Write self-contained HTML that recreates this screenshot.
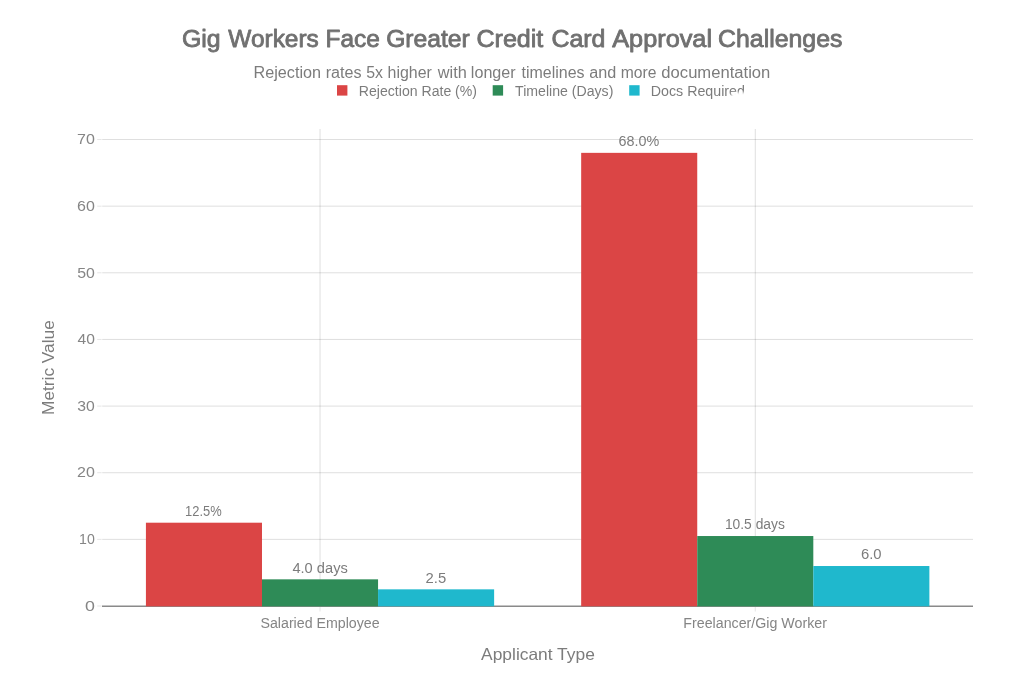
<!DOCTYPE html>
<html lang="en">
<head>
<meta charset="utf-8">
<title>Gig Workers Face Greater Credit Card Approval Challenges</title>
<style>
html,body{margin:0;padding:0;background:#fff;}
body{width:1024px;height:683px;overflow:hidden;}
svg{display:block;font-family:"Liberation Sans",sans-serif;}
.title{font-size:24.7px;fill:#707070;stroke:#707070;stroke-width:0.85px;stroke-linejoin:round;}
.sub{font-size:16px;fill:#7c7c7c;}
.leg{font-size:13.8px;fill:#7c7c7c;}
.tick{font-size:14px;fill:#858585;}
.axt{font-size:16.5px;fill:#7c7c7c;}
.bl{font-size:14px;fill:#7c7c7c;}
.grid{stroke:rgba(0,0,0,0.13);stroke-width:1;}
.tk{stroke:rgba(0,0,0,0.10);stroke-width:1;}
</style>
</head>
<body>
<svg width="1024" height="683" viewBox="0 0 1024 683">
<rect width="1024" height="683" fill="#ffffff"/>

<line class="grid" x1="320.02" x2="320.02" y1="129.0" y2="606.0"/>
<line class="tk" x1="320.02" x2="320.02" y1="606.0" y2="611.5"/>
<line class="grid" x1="755.27" x2="755.27" y1="129.0" y2="606.0"/>
<line class="tk" x1="755.27" x2="755.27" y1="606.0" y2="611.5"/>
<line class="grid" x1="102.2" x2="973" y1="539.36" y2="539.36"/>
<line class="grid" x1="102.2" x2="973" y1="472.72" y2="472.72"/>
<line class="grid" x1="102.2" x2="973" y1="406.08" y2="406.08"/>
<line class="grid" x1="102.2" x2="973" y1="339.44" y2="339.44"/>
<line class="grid" x1="102.2" x2="973" y1="272.80" y2="272.80"/>
<line class="grid" x1="102.2" x2="973" y1="206.16" y2="206.16"/>
<line class="grid" x1="102.2" x2="973" y1="139.52" y2="139.52"/>
<line class="tk" x1="97.2" x2="101.6" y1="606.00" y2="606.00"/>
<text class="tick" x="84.96" y="610.70" textLength="9.93" lengthAdjust="spacingAndGlyphs">0</text>
<line class="tk" x1="97.2" x2="101.6" y1="539.36" y2="539.36"/>
<text class="tick" x="79.06" y="544.06" textLength="15.72" lengthAdjust="spacingAndGlyphs">10</text>
<line class="tk" x1="97.2" x2="101.6" y1="472.72" y2="472.72"/>
<text class="tick" x="77.04" y="477.42" textLength="17.82" lengthAdjust="spacingAndGlyphs">20</text>
<line class="tk" x1="97.2" x2="101.6" y1="406.08" y2="406.08"/>
<text class="tick" x="77.34" y="410.78" textLength="17.51" lengthAdjust="spacingAndGlyphs">30</text>
<line class="tk" x1="97.2" x2="101.6" y1="339.44" y2="339.44"/>
<text class="tick" x="77.48" y="344.14" textLength="17.36" lengthAdjust="spacingAndGlyphs">40</text>
<line class="tk" x1="97.2" x2="101.6" y1="272.80" y2="272.80"/>
<text class="tick" x="77.19" y="277.50" textLength="17.66" lengthAdjust="spacingAndGlyphs">50</text>
<line class="tk" x1="97.2" x2="101.6" y1="206.16" y2="206.16"/>
<text class="tick" x="77.04" y="210.86" textLength="17.82" lengthAdjust="spacingAndGlyphs">60</text>
<line class="tk" x1="97.2" x2="101.6" y1="139.52" y2="139.52"/>
<text class="tick" x="77.04" y="144.22" textLength="17.82" lengthAdjust="spacingAndGlyphs">70</text>
<line x1="102" x2="973" y1="606.3" y2="606.3" stroke="#8a8a8a" stroke-width="1.5"/>
<rect x="145.92" y="522.70" width="116.07" height="83.65" fill="#DB4545"/>
<text class="bl" x="185.06" y="515.90" textLength="36.60" lengthAdjust="spacingAndGlyphs">12.5%</text>
<rect x="261.99" y="579.34" width="116.07" height="27.01" fill="#2E8B57"/>
<text class="bl" x="292.41" y="572.54" textLength="55.38" lengthAdjust="spacingAndGlyphs">4.0 days</text>
<rect x="378.06" y="589.34" width="116.07" height="17.01" fill="#1FB8CD"/>
<text class="bl" x="425.61" y="582.54" textLength="20.62" lengthAdjust="spacingAndGlyphs">2.5</text>
<rect x="581.17" y="152.85" width="116.07" height="453.50" fill="#DB4545"/>
<text class="bl" x="618.53" y="146.05" textLength="40.73" lengthAdjust="spacingAndGlyphs">68.0%</text>
<rect x="697.24" y="536.03" width="116.07" height="70.32" fill="#2E8B57"/>
<text class="bl" x="724.89" y="529.23" textLength="59.97" lengthAdjust="spacingAndGlyphs">10.5 days</text>
<rect x="813.31" y="566.02" width="116.07" height="40.33" fill="#1FB8CD"/>
<text class="bl" x="860.91" y="559.22" textLength="20.62" lengthAdjust="spacingAndGlyphs">6.0</text>
<text class="tick" x="260.47" y="627.50" textLength="119.18" lengthAdjust="spacingAndGlyphs">Salaried Employee</text>
<text class="tick" x="683.36" y="627.50" textLength="143.56" lengthAdjust="spacingAndGlyphs">Freelancer/Gig Worker</text>
<text class="axt" x="481.10" y="659.70" textLength="113.72" lengthAdjust="spacingAndGlyphs">Applicant Type</text>
<text class="axt" transform="translate(54.4,413.5) rotate(-90)" x="-1.44" y="0" textLength="94.71" lengthAdjust="spacingAndGlyphs">Metric Value</text>
<text class="title" y="46.50"><tspan x="181.92" textLength="38.66" lengthAdjust="spacingAndGlyphs">Gig</tspan> <tspan x="228.37" textLength="90.38" lengthAdjust="spacingAndGlyphs">Workers</tspan> <tspan x="325.59" textLength="54.24" lengthAdjust="spacingAndGlyphs">Face</tspan> <tspan x="386.13" textLength="83.63" lengthAdjust="spacingAndGlyphs">Greater</tspan> <tspan x="476.41" textLength="66.92" lengthAdjust="spacingAndGlyphs">Credit</tspan> <tspan x="551.42" textLength="54.04" lengthAdjust="spacingAndGlyphs">Card</tspan> <tspan x="612.28" textLength="99.73" lengthAdjust="spacingAndGlyphs">Approval</tspan> <tspan x="718.12" textLength="124.29" lengthAdjust="spacingAndGlyphs">Challenges</tspan></text>
<text class="sub" y="77.80"><tspan x="253.51" textLength="67.48" lengthAdjust="spacingAndGlyphs">Rejection</tspan> <tspan x="325.67" textLength="35.81" lengthAdjust="spacingAndGlyphs">rates</tspan> <tspan x="366.18" textLength="16.78" lengthAdjust="spacingAndGlyphs">5x</tspan> <tspan x="387.58" textLength="44.25" lengthAdjust="spacingAndGlyphs">higher</tspan> <tspan x="437.80" textLength="29.00" lengthAdjust="spacingAndGlyphs">with</tspan> <tspan x="470.87" textLength="44.77" lengthAdjust="spacingAndGlyphs">longer</tspan> <tspan x="521.55" textLength="62.99" lengthAdjust="spacingAndGlyphs">timelines</tspan> <tspan x="589.37" textLength="27.02" lengthAdjust="spacingAndGlyphs">and</tspan> <tspan x="620.80" textLength="35.69" lengthAdjust="spacingAndGlyphs">more</tspan> <tspan x="661.35" textLength="108.98" lengthAdjust="spacingAndGlyphs">documentation</tspan></text>
<rect x="337" y="85.2" width="10.4" height="10.4" fill="#DB4545"/>
<text class="leg" x="358.85" y="95.60" textLength="118.19" lengthAdjust="spacingAndGlyphs">Rejection Rate (%)</text>
<rect x="492.7" y="85.2" width="10.4" height="10.4" fill="#2E8B57"/>
<text class="leg" x="515.04" y="95.60" textLength="98.32" lengthAdjust="spacingAndGlyphs">Timeline (Days)</text>
<rect x="629.2" y="85.2" width="10.4" height="10.4" fill="#1FB8CD"/>
<text class="leg" x="650.74" y="95.60" textLength="94.18" lengthAdjust="spacingAndGlyphs">Docs Required</text>
<defs><filter id="bl" x="-50%" y="-50%" width="200%" height="200%"><feGaussianBlur stdDeviation="1"/></filter></defs>
<rect x="731.3" y="92.4" width="18" height="9" fill="#fff" filter="url(#bl)"/>
</svg>
</body>
</html>
